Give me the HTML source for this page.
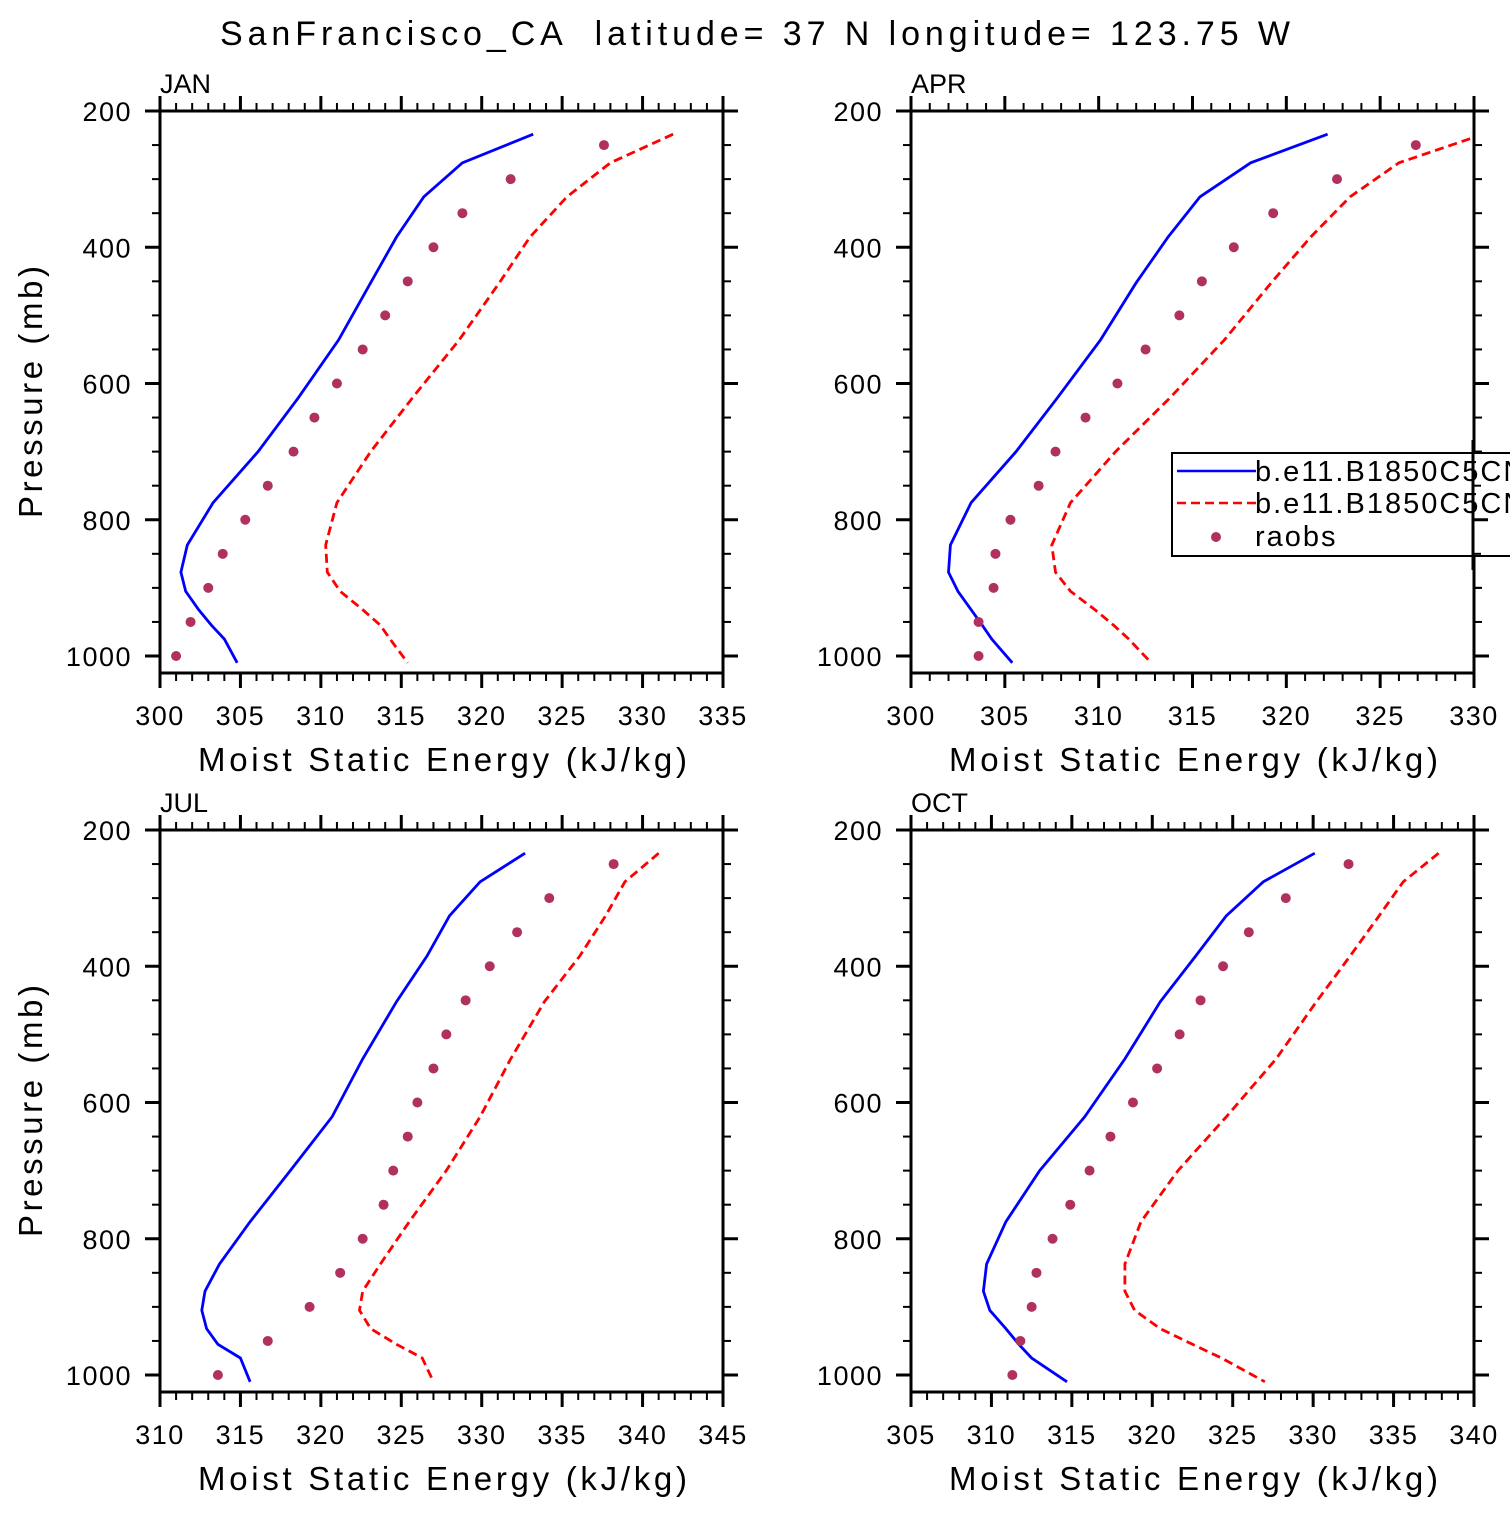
<!DOCTYPE html>
<html><head><meta charset="utf-8"><style>
html,body{margin:0;padding:0;background:#fff}
svg text{font-family:"Liberation Sans",sans-serif;fill:#000;white-space:pre}
</style></head><body>
<svg id="fig" width="1510" height="1510" viewBox="0 0 1510 1510" xmlns="http://www.w3.org/2000/svg">
<text x="220" y="45" font-size="34" textLength="1070" lengthAdjust="spacing" xml:space="preserve">SanFrancisco_CA  latitude= 37 N longitude= 123.75 W</text>
</svg>
<script>
const modelLevels=[234,276,326,385,452,536,621,700,775,837,877,905,932,955,975,1010];
const raobLevels=[250,300,350,400,450,500,550,600,650,700,750,800,850,900,950,1000];
const monthNames=["JAN","APR","JUL","OCT"];
const janModelA=[323.2,318.8,316.4,314.7,313.1,311.1,308.6,306.1,303.3,301.7,301.3,301.6,302.4,303.2,304.0,304.8];
const janModelB=[331.9,328.0,325.3,323.0,321.1,318.6,315.7,313.1,311.0,310.3,310.4,311.2,312.6,313.7,314.3,315.4];
const janRaobs=[327.6,321.8,318.8,317.0,315.4,314.0,312.6,311.0,309.6,308.3,306.7,305.3,303.9,303.0,301.9,301.0];
const aprModelA=[322.2,318.1,315.4,313.7,312.0,310.1,307.8,305.6,303.2,302.1,302.0,302.5,303.2,303.8,304.3,305.4];
const aprModelB=[330.5,326.0,323.4,321.3,319.2,316.7,313.8,310.9,308.5,307.5,307.7,308.5,309.8,310.8,311.6,312.8];
const aprRaobs=[326.9,322.7,319.3,317.2,315.5,314.3,312.5,311.0,309.3,307.7,306.8,305.3,304.5,304.4,303.6,303.6];
const julModelA=[332.7,329.9,328.0,326.6,324.7,322.6,320.7,318.1,315.6,313.7,312.8,312.6,312.9,313.6,315.0,315.6];
const julModelB=[341.0,338.9,337.7,336.1,333.9,331.8,329.9,327.8,325.5,323.7,322.6,322.4,323.1,324.7,326.3,327.0];
const julRaobs=[338.2,334.2,332.2,330.5,329.0,327.8,327.0,326.0,325.4,324.5,323.9,322.6,321.2,319.3,316.7,313.6];
const octModelA=[330.1,326.9,324.6,322.7,320.5,318.3,315.8,313.0,310.9,309.7,309.5,309.9,310.9,311.7,312.5,314.7];
const octModelB=[337.8,335.6,334.1,332.3,330.2,327.7,324.6,321.6,319.3,318.3,318.3,318.9,320.5,322.5,324.3,327.0];
const octRaobs=[332.2,328.3,326.0,324.4,323.0,321.7,320.3,318.8,317.4,316.1,314.9,313.8,312.8,312.5,311.8,311.3];
const xMins=[300,300,310,305];
const xMaxs=[335,330,345,340];
const pTicks=[200,400,600,800,1000];
const legendLabels=["b.e11.B1850C5CN","b.e11.B1850C5CN","raobs"];

const NS="http://www.w3.org/2000/svg";
const svg=document.getElementById('fig');
function mk(tag,attrs,parent){const e=document.createElementNS(NS,tag);for(const k in attrs)e.setAttribute(k,attrs[k]);(parent||svg).appendChild(e);return e;}
const panels=[
 {x0:160,y0:111,a:janModelA,b:janModelB,r:janRaobs},
 {x0:911,y0:111,a:aprModelA,b:aprModelB,r:aprRaobs},
 {x0:160,y0:830,a:julModelA,b:julModelB,r:julRaobs},
 {x0:911,y0:830,a:octModelA,b:octModelB,r:octRaobs}];
const W=563,H=562,PPM=545/800;
panels.forEach((P,i)=>{
 const g=mk('g',{});
 
 
 const xmin=xMins[i],xmax=xMaxs[i];
 const X=v=>P.x0+(v-xmin)/(xmax-xmin)*W;
 const Y=p=>P.y0+(p-200)*PPM;
 const cp='clip'+i;
 const cl=mk('clipPath',{id:cp},g);mk('rect',{x:P.x0,y:P.y0,width:W,height:H},cl);
 const data=mk('g',{'clip-path':'url(#'+cp+')'},g);
 let d=P.a.map((v,k)=>(k?'L':'M')+X(v).toFixed(1)+','+Y(modelLevels[k]).toFixed(1)).join('');
 const la=mk('path',{d:d,fill:'none',stroke:'#0000ff','stroke-width':2.8},data);
 
 
 d=P.b.map((v,k)=>(k?'L':'M')+X(v).toFixed(1)+','+Y(modelLevels[k]).toFixed(1)).join('');
 const lb=mk('path',{d:d,fill:'none',stroke:'#ff0000','stroke-width':2.8,'stroke-dasharray':'9,5'},data);
 
 
 P.r.forEach((v,k)=>{const c=mk('circle',{cx:X(v),cy:Y(raobLevels[k]),r:5,fill:'#b03060'},data);
  
  });
 const bx=mk('rect',{x:P.x0,y:P.y0,width:W,height:H,fill:'none',stroke:'#000','stroke-width':3},g);
 
 
 for(let v=xmin;v<=xmax;v++){
  const x=X(v),maj=(v%5===0),L=maj?15:8;
  mk('line',{x1:x,x2:x,y1:P.y0,y2:P.y0-L,stroke:'#000','stroke-width':maj?3:2},g);
  mk('line',{x1:x,x2:x,y1:P.y0+H,y2:P.y0+H+L,stroke:'#000','stroke-width':maj?3:2},g);
  if(maj){const t=mk('text',{x:x,y:P.y0+H+52,'text-anchor':'middle','font-size':27,'letter-spacing':1.5},g);t.textContent=v;
   
   }
 }
 for(let p=200;p<=1000;p+=50){
  const y=Y(p),maj=(p%200===0),L=maj?15:8;
  mk('line',{x1:P.x0,x2:P.x0-L,y1:y,y2:y,stroke:'#000','stroke-width':maj?3:2},g);
  mk('line',{x1:P.x0+W,x2:P.x0+W+L,y1:y,y2:y,stroke:'#000','stroke-width':maj?3:2},g);
 }
 pTicks.forEach(p=>{const t=mk('text',{x:P.x0-28,y:Y(p)+10,'text-anchor':'end','font-size':27,'letter-spacing':1.5},g);t.textContent=p;
  
  });
 const mt=mk('text',{x:P.x0,y:P.y0-18,'font-size':27},g);mt.textContent=monthNames[i];
 
 
 const xt=mk('text',{x:P.x0+38,y:P.y0+H+98,'font-size':33,textLength:489,lengthAdjust:'spacing'},g);xt.textContent='Moist Static Energy (kJ/kg)';
 
 
 if(i%2===0){const yt=mk('text',{x:0,y:0,'font-size':33,textLength:252,lengthAdjust:'spacing',transform:'translate(42,'+(P.y0+H/2+126)+') rotate(-90)'},g);yt.textContent='Pressure (mb)';
  
  }
});
const lg=mk('g',{});


mk('rect',{x:1172,y:453,width:360,height:103,fill:'#fff',stroke:'#000','stroke-width':2},lg);
mk('line',{x1:1177,x2:1256,y1:471,y2:471,stroke:'#0000ff','stroke-width':2.5},lg);
mk('line',{x1:1177,x2:1256,y1:503,y2:503,stroke:'#ff0000','stroke-width':2.5,'stroke-dasharray':'9,5'},lg);
mk('circle',{cx:1216,cy:537,r:5,fill:'#b03060'},lg);
[481,513,546].forEach((y,k)=>{const t=mk('text',{x:1255,y:y,'font-size':29,'letter-spacing':2},lg);t.textContent=legendLabels[k];
 
 });
mk('line',{x1:1473,x2:1473,y1:440,y2:570,stroke:'#000','stroke-width':3},lg);
for(let p=700;p<=900;p+=50){const y=111+(p-200)*PPM;mk('line',{x1:1473,x2:1473+(p%200===0?15:8),y1:y,y2:y,stroke:'#000','stroke-width':p%200===0?3:2},lg);}
</script>
</body></html>
